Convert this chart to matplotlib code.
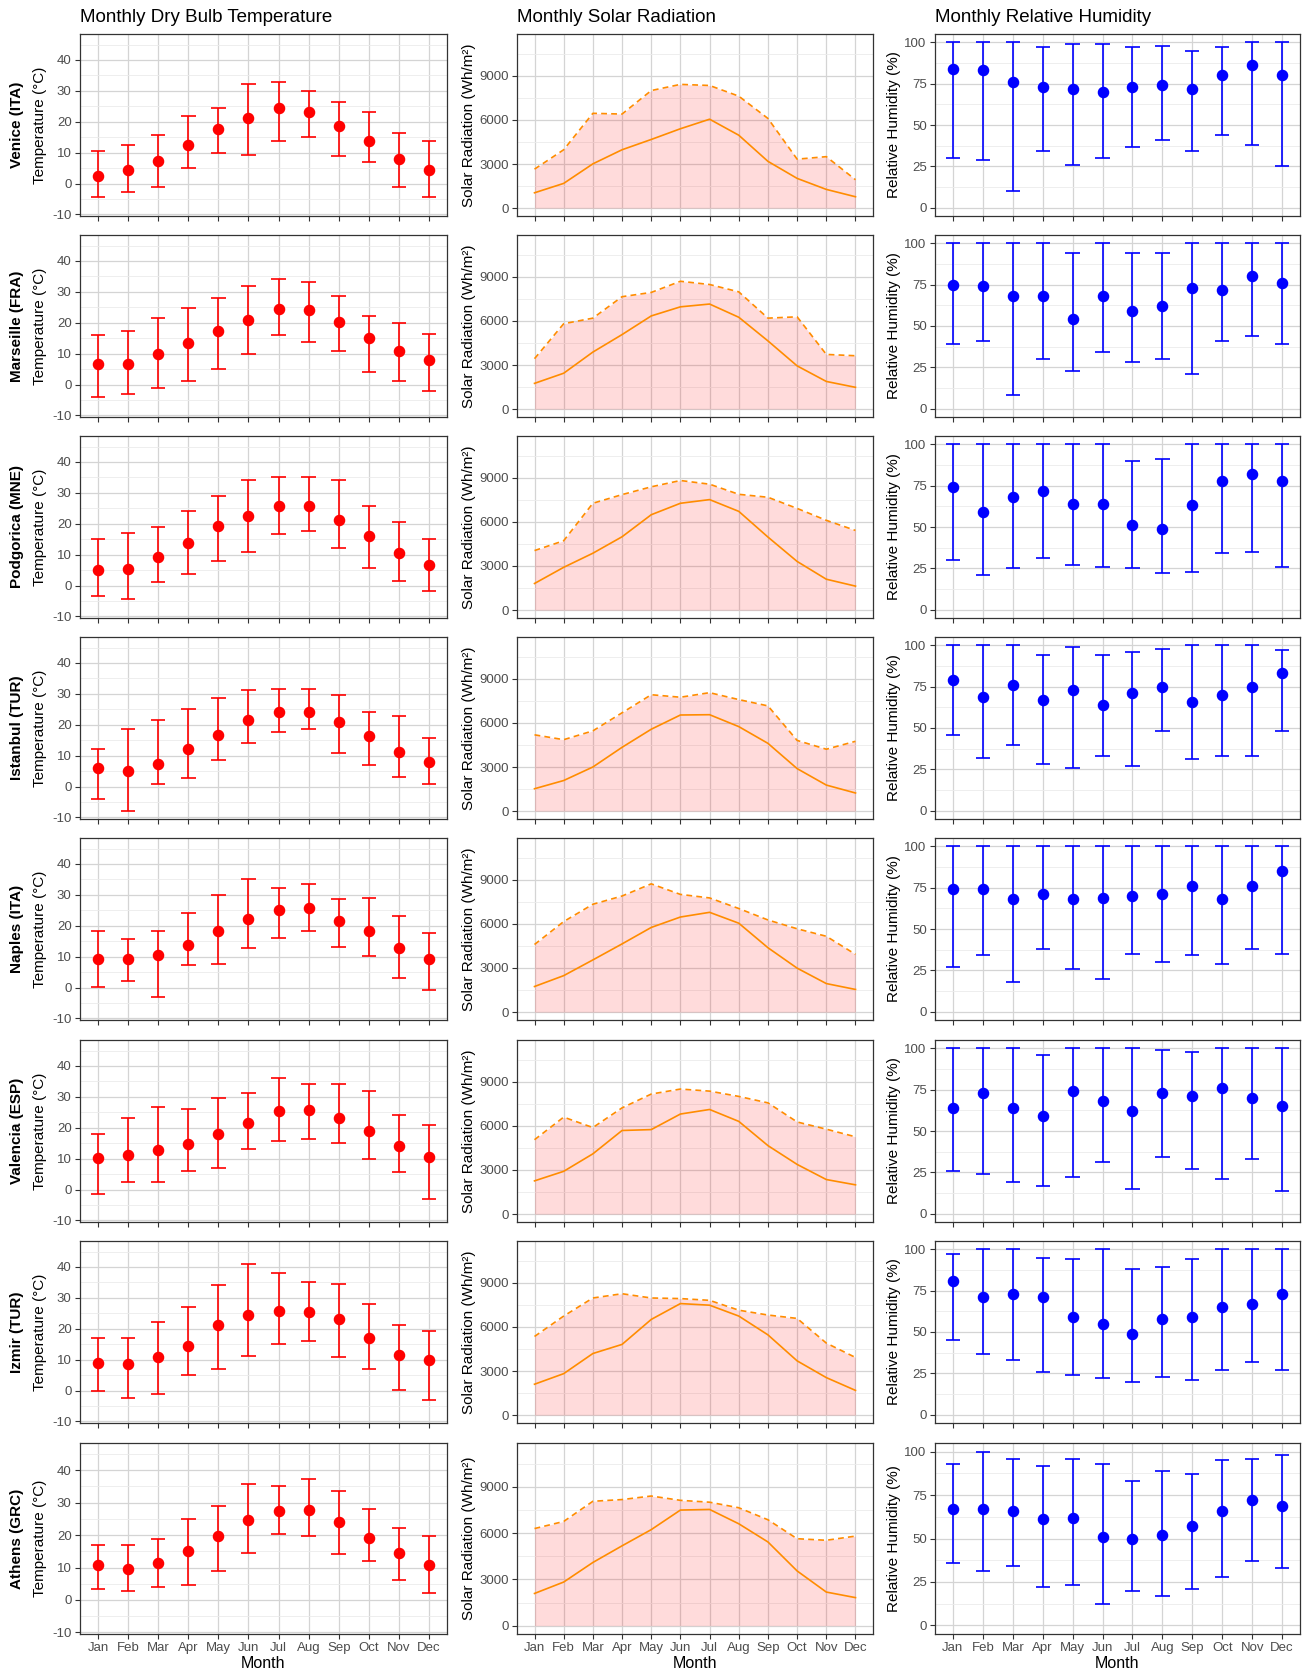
import matplotlib
matplotlib.use("Agg")
import matplotlib.pyplot as plt
import numpy as np

plt.rcParams['font.family'] = ['Liberation Sans', 'DejaVu Sans']
plt.rcParams['axes.unicode_minus'] = False

months = ["Jan", "Feb", "Mar", "Apr", "May", "Jun", "Jul", "Aug", "Sep", "Oct", "Nov", "Dec"]
cities = ["Venice (ITA)", "Marseille (FRA)", "Podgorica (MNE)", "Istanbul (TUR)",
          "Naples (ITA)", "Valencia (ESP)", "Izmir (TUR)", "Athens (GRC)"]

temp_mean = [
    [2.3, 4.3, 7.2, 12.5, 17.8, 21.3, 24.3, 23.0, 18.7, 13.9, 7.8, 4.3],
    [6.5, 6.8, 10.0, 13.3, 17.4, 20.8, 24.5, 24.1, 20.1, 15.0, 10.7, 8.0],
    [5.1, 5.4, 9.2, 13.8, 19.3, 22.5, 25.6, 25.9, 21.1, 16.1, 10.6, 6.8],
    [5.9, 4.9, 7.3, 12.1, 16.8, 21.6, 24.1, 24.2, 20.8, 16.4, 11.3, 7.8],
    [9.3, 9.1, 10.5, 13.9, 18.2, 22.2, 25.0, 25.6, 21.6, 18.2, 12.9, 9.3],
    [10.3, 11.2, 12.8, 14.9, 18.0, 21.7, 25.5, 25.6, 23.2, 18.9, 14.2, 10.6],
    [9.0, 8.5, 10.8, 14.5, 21.1, 24.5, 25.9, 25.4, 23.1, 17.0, 11.5, 9.9],
    [10.7, 9.6, 11.3, 15.1, 19.7, 24.6, 27.3, 27.6, 23.9, 19.1, 14.5, 10.9],
]
temp_max = [
    [10.4, 12.4, 15.6, 22.0, 24.6, 32.3, 33.0, 29.9, 26.4, 23.0, 16.5, 13.9],
    [16.0, 17.2, 21.4, 24.8, 28.0, 31.9, 34.0, 33.3, 28.5, 22.1, 20.0, 16.4],
    [15.0, 17.0, 19.0, 24.0, 29.0, 34.0, 35.2, 35.0, 34.0, 25.6, 20.7, 15.0],
    [12.2, 18.7, 21.4, 25.1, 28.5, 31.2, 31.5, 31.5, 29.7, 24.0, 22.7, 15.8],
    [18.4, 15.6, 18.4, 24.0, 29.9, 35.1, 32.3, 33.4, 28.7, 29.1, 23.0, 17.6],
    [17.9, 23.1, 26.6, 26.0, 29.5, 31.4, 36.1, 34.3, 34.1, 31.9, 24.0, 21.0],
    [16.9, 17.1, 22.3, 27.1, 34.2, 41.0, 38.2, 35.0, 34.5, 28.0, 21.1, 19.4],
    [17.0, 17.0, 18.8, 25.0, 29.0, 35.8, 35.0, 37.2, 33.6, 28.0, 22.1, 19.8],
]
temp_min = [
    [-4.4, -2.6, -1.0, 5.0, 10.0, 9.3, 13.8, 15.1, 9.0, 7.0, -1.0, -4.4],
    [-4.0, -3.0, -1.2, 1.0, 4.9, 9.8, 15.9, 13.8, 11.0, 4.0, 1.0, -2.2],
    [-3.3, -4.3, 1.1, 3.6, 8.0, 11.0, 16.7, 17.5, 12.0, 5.7, 1.4, -1.9],
    [-4.0, -8.0, 0.9, 2.8, 8.6, 14.0, 17.8, 18.7, 10.9, 7.0, 3.0, 0.9],
    [0.1, 2.1, -3.0, 7.3, 7.7, 12.7, 16.0, 18.2, 13.0, 10.1, 3.0, -0.9],
    [-1.4, 2.5, 2.5, 6.0, 7.0, 13.0, 15.7, 16.3, 15.1, 10.0, 5.6, -3.1],
    [-0.1, -2.5, -1.1, 5.0, 7.1, 11.3, 15.1, 16.0, 11.0, 7.0, 0.1, -3.1],
    [3.5, 2.7, 3.9, 4.5, 8.8, 14.5, 20.3, 19.8, 14.1, 12.0, 6.0, 2.0],
]

solar_mean = [
    [1040, 1680, 3010, 3970, 4670, 5400, 6050, 4960, 3180, 2020, 1270, 770],
    [1750, 2440, 3880, 5070, 6340, 6960, 7150, 6250, 4640, 2940, 1880, 1480],
    [1810, 2910, 3870, 4990, 6490, 7270, 7520, 6720, 4970, 3310, 2100, 1630],
    [1520, 2080, 3000, 4340, 5570, 6540, 6560, 5750, 4610, 2890, 1770, 1230],
    [1740, 2480, 3550, 4640, 5760, 6470, 6790, 6050, 4380, 2990, 1940, 1540],
    [2260, 2910, 4100, 5690, 5750, 6810, 7120, 6310, 4660, 3380, 2350, 1990],
    [2100, 2820, 4190, 4810, 6510, 7590, 7480, 6740, 5460, 3690, 2550, 1680],
    [2090, 2830, 4100, 5180, 6230, 7500, 7540, 6610, 5430, 3550, 2180, 1820],
]
solar_max = [
    [2650, 3970, 6450, 6400, 8000, 8420, 8345, 7620, 6100, 3330, 3500, 1930],
    [3430, 5810, 6190, 7650, 7940, 8700, 8480, 7980, 6190, 6280, 3720, 3630],
    [4050, 4720, 7270, 7860, 8390, 8820, 8570, 7880, 7680, 6920, 6110, 5420],
    [5190, 4860, 5460, 6690, 7920, 7750, 8060, 7590, 7160, 4810, 4210, 4750],
    [4600, 6160, 7340, 7900, 8730, 8010, 7770, 7050, 6270, 5670, 5160, 3930],
    [5060, 6600, 5890, 7230, 8170, 8510, 8370, 8010, 7570, 6270, 5780, 5260],
    [5350, 6740, 7970, 8260, 7970, 7930, 7810, 7140, 6810, 6580, 4900, 3920],
    [6300, 6760, 8070, 8180, 8410, 8130, 8010, 7650, 6870, 5640, 5540, 5810],
]

hum_mean = [
    [84, 83, 76, 73, 72, 70, 73, 74, 72, 80, 86, 80],
    [75, 74, 68, 68, 54, 68, 59, 62, 73, 72, 80, 76],
    [74, 59, 68, 72, 64, 64, 51, 49, 63, 78, 82, 78],
    [79, 69, 76, 67, 73, 64, 71, 75, 66, 70, 75, 83],
    [74, 74, 68, 71, 68, 69, 70, 71, 76, 68, 76, 85],
    [64, 73, 64, 59, 74, 68, 62, 73, 71, 76, 70, 65],
    [81, 71, 73, 71, 59, 55, 49, 58, 59, 65, 67, 73],
    [67, 67, 66, 61, 62, 51, 50, 52, 57, 66, 72, 69],
]
hum_max = [
    [100, 100, 100, 97, 99, 99, 97, 98, 95, 97, 100, 100],
    [100, 100, 100, 100, 94, 100, 94, 94, 100, 100, 100, 100],
    [100, 100, 100, 100, 100, 100, 90, 91, 100, 100, 100, 100],
    [100, 100, 100, 94, 99, 94, 96, 98, 100, 100, 100, 97],
    [100, 100, 100, 100, 100, 100, 100, 100, 100, 100, 100, 100],
    [100, 100, 100, 96, 100, 100, 100, 99, 98, 100, 100, 100],
    [97, 100, 100, 95, 94, 100, 88, 89, 94, 100, 100, 100],
    [93, 100, 96, 92, 96, 93, 83, 89, 87, 95, 96, 98],
]
hum_min = [
    [30, 29, 10, 34, 26, 30, 37, 41, 34, 44, 38, 25],
    [39, 41, 8, 30, 23, 34, 28, 30, 21, 41, 44, 39],
    [30, 21, 25, 31, 27, 26, 25, 22, 23, 34, 35, 26],
    [46, 32, 40, 28, 26, 33, 27, 48, 31, 33, 33, 48],
    [27, 34, 18, 38, 26, 20, 35, 30, 34, 29, 38, 35],
    [26, 24, 19, 17, 22, 31, 15, 34, 27, 21, 33, 14],
    [45, 37, 33, 26, 24, 22, 20, 23, 21, 27, 32, 27],
    [36, 31, 34, 22, 23, 12, 20, 17, 21, 28, 37, 33],
]

col_titles = ["Monthly Dry Bulb Temperature", "Monthly Solar Radiation", "Monthly Relative Humidity"]

W, H = 1306, 1673
fig = plt.figure(figsize=(W / 100, H / 100), dpi=100)
cols = [(80, 447), (517, 873), (935, 1300)]
row_tops = [34, 235, 436, 637, 838, 1040, 1241, 1443]
row_h = [182] * 7 + [191]

GRID_MAJ = "#D4D4D4"
GRID_MIN = "#EBEBEB"
TICK_C = "#4D4D4D"


def add_ax(c, r):
    x0, x1 = cols[c]
    top = row_tops[r]
    h = row_h[r]
    return fig.add_axes([x0 / W, 1 - (top + h) / H, (x1 - x0) / W, h / H])


def style(ax, yt, ymin, ylim, last):
    x = np.arange(1, 13)
    ax.set_xlim(0.4, 12.6)
    ax.set_ylim(*ylim)
    ax.set_xticks(x)
    ax.set_xticklabels(months if last else [""] * 12)
    ax.set_yticks(yt)
    ax.set_yticks(ymin, minor=True)
    ax.set_yticklabels([str(v) for v in yt])
    ax.grid(True, which="major", color=GRID_MAJ, lw=0.9, zorder=0)
    ax.grid(True, which="minor", axis="y", color=GRID_MIN, lw=0.6, zorder=0)
    ax.set_axisbelow(True)
    for s in ax.spines.values():
        s.set_color("#333333")
        s.set_linewidth(0.9)
    ax.tick_params(which="major", length=3.5, width=0.8, color="#333333",
                   labelsize=9.5, labelcolor=TICK_C, pad=2.5)
    ax.tick_params(which="minor", length=0)


x = np.arange(1, 13)
for r in range(8):
    last = r == 7
    yc = 1 - (row_tops[r] + row_h[r] / 2) / H

    # Temperature
    ax = add_ax(0, r)
    style(ax, [-10, 0, 10, 20, 30, 40], [-5, 5, 15, 25, 35, 45], (-10.5, 48.4), last)
    tmn, tmx, tmi = np.array(temp_mean[r]), np.array(temp_max[r]), np.array(temp_min[r])
    ax.vlines(x, tmi, tmx, color="red", lw=1.2, zorder=3)
    ax.hlines(tmx, x - 0.24, x + 0.24, color="red", lw=1.2, zorder=3)
    ax.hlines(tmi, x - 0.24, x + 0.24, color="red", lw=1.2, zorder=3)
    ax.plot(x, tmn, "o", color="red", ms=7.3, zorder=4)

    # Solar
    ax = add_ax(1, r)
    style(ax, [0, 3000, 6000, 9000], [1500, 4500, 7500, 10500], (-540, 11850), last)
    smn, smx = np.array(solar_mean[r]), np.array(solar_max[r])
    ax.fill_between(x, 0, smx, color="red", alpha=0.14, lw=0, zorder=2)
    ax.plot(x, smn, color="#FF8C00", lw=1.2, zorder=3)
    ax.plot(x, smx, color="#FF8C00", lw=1.2, ls=(0, (3.5, 2.5)), zorder=3)

    # Humidity
    ax = add_ax(2, r)
    style(ax, [0, 25, 50, 75, 100], [12.5, 37.5, 62.5, 87.5], (-5, 105), last)
    hmn, hmx, hmi = np.array(hum_mean[r]), np.array(hum_max[r]), np.array(hum_min[r])
    ax.vlines(x, hmi, hmx, color="blue", lw=1.2, zorder=3)
    ax.hlines(hmx, x - 0.24, x + 0.24, color="blue", lw=1.2, zorder=3)
    ax.hlines(hmi, x - 0.24, x + 0.24, color="blue", lw=1.2, zorder=3)
    ax.plot(x, hmn, "o", color="blue", ms=7.3, zorder=4)

    # Row labels
    fig.text(17 / W, yc, cities[r], rotation=90, ha="center", va="center",
             fontsize=11, fontweight="bold")
    fig.text(40 / W, yc, "Temperature (°C)", rotation=90, ha="center", va="center", fontsize=11)
    fig.text(469 / W, yc, "Solar Radiation (Wh/m²)", rotation=90, ha="center", va="center", fontsize=11)
    fig.text(894 / W, yc, "Relative Humidity (%)", rotation=90, ha="center", va="center", fontsize=11)

for c in range(3):
    fig.text(cols[c][0] / W, 1 - 17 / H, col_titles[c], ha="left", va="center", fontsize=13.5)
    fig.text((cols[c][0] + cols[c][1]) / 2 / W, 1 - 1663 / H, "Month", ha="center",
             va="center", fontsize=11.5)

fig.savefig("out.png", dpi=100, facecolor="white")
